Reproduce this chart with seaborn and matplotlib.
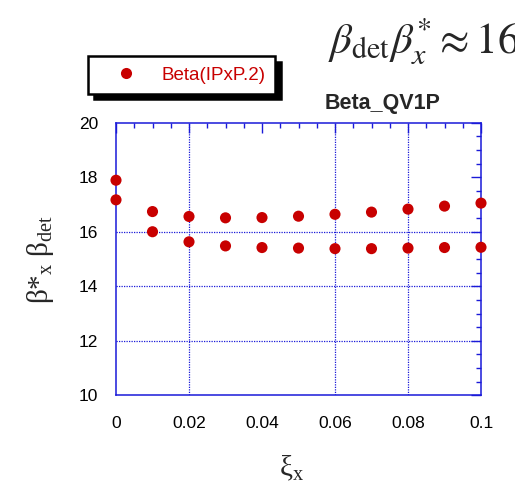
import matplotlib
matplotlib.use("Agg")
import matplotlib.pyplot as plt
import seaborn as sns
import pandas as pd
from matplotlib.ticker import MultipleLocator

# ---- data ----
xi = [0.0, 0.01, 0.02, 0.03, 0.04, 0.05, 0.06, 0.07, 0.08, 0.09, 0.10]
beta_upper = [17.89, 16.74, 16.56, 16.51, 16.52, 16.57, 16.64, 16.72, 16.83, 16.94, 17.05]
beta_lower = [17.17, 16.00, 15.63, 15.48, 15.42, 15.40, 15.38, 15.38, 15.40, 15.42, 15.43]
series_label = "Beta(IPxP.2)"
x_ticks = [0, 0.02, 0.04, 0.06, 0.08, 0.1]
x_ticklabels = ["0", "0.02", "0.04", "0.06", "0.08", "0.1"]
y_ticks = [10, 12, 14, 16, 18, 20]
x_grid = [0.02, 0.06, 0.08]
y_grid = [12, 14, 16]

df = pd.DataFrame({
    "xi": xi + xi,
    "beta": beta_upper + beta_lower,
    "series": [series_label] * (2 * len(xi)),
})

sns.set_style("white")
plt.rcParams["font.family"] = ["Liberation Sans", "DejaVu Sans"]
plt.rcParams["mathtext.fontset"] = "stix"

BLUE = "#1a1ad8"
RED = "#c80000"

fig = plt.figure(figsize=(5.15, 4.83), dpi=100)
ax = fig.add_axes([116 / 515, 1 - 395.3 / 483, (481 - 116) / 515, (395.3 - 122.7) / 483])

for gx in x_grid:
    ax.axvline(gx, color=BLUE, lw=0.9, ls=(0, (1, 1)), zorder=1)
for gy in y_grid:
    ax.axhline(gy, color=BLUE, lw=0.9, ls=(0, (1, 1)), zorder=1)

sns.scatterplot(data=df, x="xi", y="beta", hue="series", palette=[RED],
                s=64, edgecolor="none", ax=ax, zorder=3, clip_on=False)

ax.set_xlim(0, 0.1)
ax.set_ylim(10, 20)
ax.set_xticks(x_ticks)
ax.set_xticklabels(x_ticklabels)
ax.set_yticks(y_ticks)
ax.xaxis.set_minor_locator(MultipleLocator(0.005))
ax.yaxis.set_minor_locator(MultipleLocator(0.5))
ax.tick_params(which="both", direction="in", top=True, right=True, color=BLUE,
               labelsize=12.5, labelcolor="black")
ax.tick_params(which="major", length=7, width=1.0)
ax.tick_params(axis="y", which="major", pad=13)
ax.tick_params(axis="x", which="major", pad=15)
ax.tick_params(which="minor", length=3.6, width=1.0)
for sp in ax.spines.values():
    sp.set_color(BLUE)
    sp.set_linewidth(1.1)

ax.set_xlabel(r"$\mathregular{\xi_{x}}$", fontsize=21, family="Liberation Serif",
              labelpad=16, x=0.48)
ax.set_ylabel(r"$\mathregular{\beta{*}_{x}\ \beta_{det}}$", fontsize=21,
              family="Liberation Serif", labelpad=16)
ax.set_title("Beta_QV1P", fontsize=15.5, fontweight="bold", x=0.73, pad=10)

leg = ax.legend(loc="center left", bbox_to_anchor=(88 / 515, 1 - 75 / 483),
                bbox_transform=fig.transFigure, frameon=True, fancybox=False,
                shadow={"color": "black", "alpha": 1.0, "ox": 4, "oy": -4},
                fontsize=13.5, handletextpad=0.35, borderpad=0.55, borderaxespad=0,
                markerscale=1.0, handlelength=3.0)
leg.get_frame().set_edgecolor("black")
leg.get_frame().set_linewidth(1.8)
for t in leg.get_texts():
    t.set_color(RED)

fig.text(328 / 515, 1 - 54 / 483, r"$\beta_{\rm det}\beta_x^{*}\approx 16$",
         fontsize=31, va="baseline", ha="left")

fig.savefig("out.png", dpi=100)
